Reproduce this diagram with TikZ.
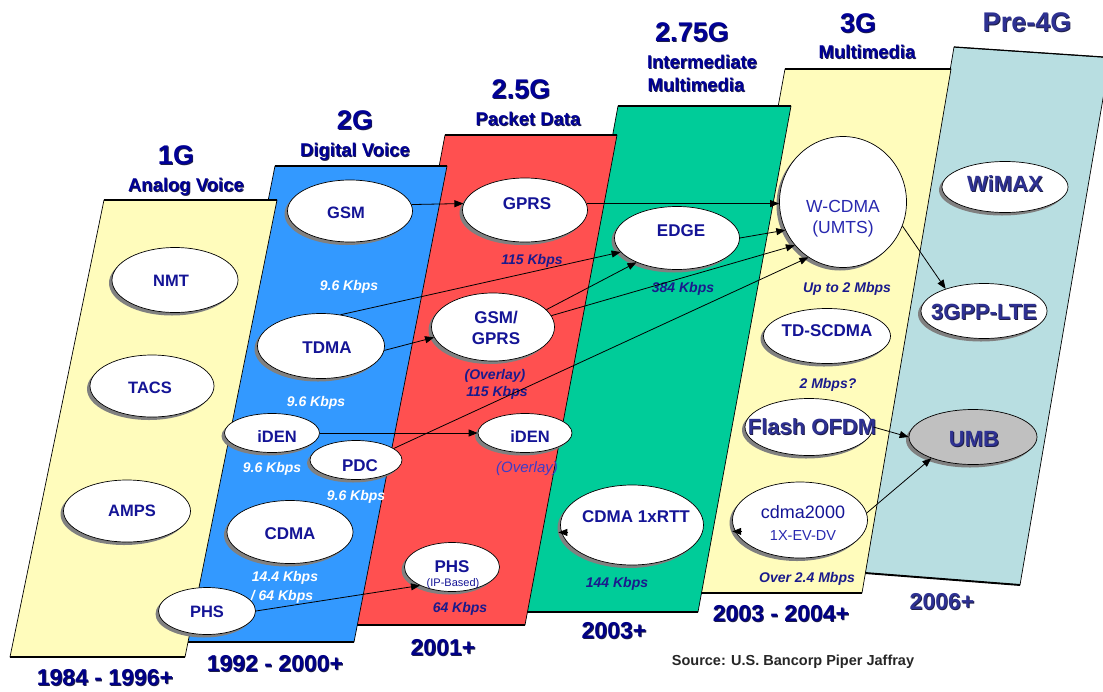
\documentclass[tikz,border=0pt]{standalone}
\usepackage{fontspec}
\setmainfont{Liberation Sans}
\usetikzlibrary{shapes.geometric,shadows,arrows.meta}

\definecolor{paleyellow}{RGB}{255,252,188}
\definecolor{gblue}{RGB}{51,153,255}
\definecolor{gred}{RGB}{255,80,80}
\definecolor{ggreen}{RGB}{0,204,153}
\definecolor{gteal}{RGB}{184,222,225}
\definecolor{navy}{RGB}{0,0,150}
\definecolor{yearnavy}{RGB}{0,0,135}
\definecolor{slatenavy}{RGB}{46,49,146}
\definecolor{ovaltext}{RGB}{20,20,150}
\definecolor{wcdmatext}{RGB}{40,40,175}
\definecolor{ratetext}{RGB}{26,26,140}
\definecolor{overlaytext}{RGB}{60,60,200}
\definecolor{umbgray}{RGB}{192,192,192}
\definecolor{embosscol}{RGB}{30,30,70}

\newcommand\fsz[1]{\fontsize{#1}{#1}\selectfont}
% text with a small dark offset copy underneath, for the heavy titles
\newcommand\embossed[1]{\makebox[0pt][l]{\hspace{0.9pt}\raisebox{-0.9pt}{\color{embosscol}#1}}#1}

\tikzset{
  bandfill/.style={draw=black, line width=0.7pt, line join=round},
  bandtop/.style={draw=black, line width=1.2pt},
  bandfoot/.style={draw=black, line width=1.9pt},
  oval/.style 2 args={ellipse, draw=black, line width=0.7pt, fill=white,
    minimum width=#1pt, minimum height=#2pt, inner sep=0pt,
    drop shadow={shadow xshift=-3pt, shadow yshift=-3pt, fill=gray, opacity=1}},
  hdr/.style={text=navy, font=\fsz{27}\bfseries, inner sep=0pt, text height=19.3pt, text depth=0pt},
  sub/.style={text=navy, font=\fsz{18.5}\bfseries, inner sep=0pt, text height=13.3pt, text depth=0pt},
  yr/.style={text=yearnavy, font=\fsz{23}\bfseries, inner sep=0pt, text height=16.5pt, text depth=0pt},
  otext/.style={text=ovaltext, font=\fsz{17}\bfseries, inner sep=0pt, text height=12.2pt, text depth=0pt},
  osmall/.style={otext, font=\fsz{16.5}\bfseries, text height=11.8pt},
  obig/.style={text=slatenavy, font=\fsz{22}\bfseries, inner sep=0pt, text height=15.8pt, text depth=0pt},
  wtext/.style={text=wcdmatext, font=\fsz{17.5}, inner sep=0pt, text height=12.5pt, text depth=0pt},
  ctext/.style={text=ovaltext, font=\fsz{18}, inner sep=0pt, text height=12.9pt, text depth=0pt},
  ctextsm/.style={text=wcdmatext, font=\fsz{14.5}, inner sep=0pt, text height=10.4pt, text depth=0pt},
  iptext/.style={text=ovaltext, font=\fsz{11}, inner sep=0pt, text height=7.9pt, text depth=0pt},
  rate/.style={font=\fsz{14}\bfseries\itshape, inner sep=0pt, text height=10pt, text depth=0pt},
  ratew/.style={rate, text=white},
  rated/.style={rate, text=ratetext},
  overlay/.style={text=overlaytext, font=\fsz{15}\itshape, inner sep=0pt, text height=10.8pt, text depth=0pt},
  source/.style={text=black!85, font=\fsz{14.5}\bfseries, inner sep=0pt, text height=10.4pt, text depth=0pt},
  arr/.style={-{Triangle[length=9pt,width=7pt]}, draw=black, line width=0.8pt},
}

\begin{document}
\begin{tikzpicture}[x=1pt,y=-1pt]
\useasboundingbox (0,0) rectangle (1103,691);
\clip (0,0) rectangle (1103,691);

% ---- generation bands, drawn back to front ----
% Pre-4G
\path[bandfill, fill=gteal] (954,47) -- (1110,57.5) -- (1020,585) -- (865,573) -- cycle;
\draw[bandtop] (954,47) -- (1110,57.5);
\draw[bandfoot] (865,573) -- (1020,585);
% 3G
\path[bandfill, fill=paleyellow] (785,69) -- (951,69) -- (862,593) -- (689,593) -- cycle;
\draw[bandtop] (785,69) -- (951,69);
\draw[bandfoot] (689,593) -- (862,593);
% 2.75G
\path[bandfill, fill=ggreen] (618,106) -- (791,106) -- (698,612) -- (525,612) -- cycle;
\draw[bandtop] (618,106) -- (791,106);
\draw[bandfoot] (525,612) -- (698,612);
% 2.5G
\path[bandfill, fill=gred] (445,135) -- (617,135) -- (525,625) -- (353,625) -- cycle;
\draw[bandtop] (445,135) -- (617,135);
\draw[bandfoot] (353,625) -- (525,625);
% 2G
\path[bandfill, fill=gblue] (275,166) -- (447,166) -- (354,642) -- (180,642) -- cycle;
\draw[bandtop] (275,166) -- (447,166);
\draw[bandfoot] (180,642) -- (354,642);
% 1G
\path[bandfill, fill=paleyellow] (104,200) -- (277,200) -- (185,657) -- (10,657) -- cycle;
\draw[bandtop] (104,200) -- (277,200);
\draw[bandfoot] (10,657) -- (185,657);

% ---- headings ----
\node[hdr] (h1) at (176,155) {\embossed{1G}};
\node[sub] (s1) at (186,185) {\embossed{Analog Voice}};
\node[hdr] (h2) at (355,120) {\embossed{2G}};
\node[sub] (s2) at (355,150) {\embossed{Digital Voice}};
\node[hdr] (h25) at (521,89) {\embossed{2.5G}};
\node[sub] (s25) at (528,119) {\embossed{Packet Data}};
\node[hdr] (h275) at (692,32) {\embossed{2.75G}};
\node[sub] (s275a) at (702,62) {\embossed{Intermediate}};
\node[sub] (s275b) at (696,85) {\embossed{Multimedia}};
\node[hdr] (h3) at (858,23) {\embossed{3G}};
\node[sub] (s3) at (867,52) {\embossed{Multimedia}};
\node[hdr, text=slatenavy] (h4) at (1027,22) {\embossed{Pre-4G}};

% ---- years ----
\node[yr] (y1) at (105,677) {\embossed{1984 - 1996+}};
\node[yr] (y2) at (275,663) {\embossed{1992 - 2000+}};
\node[yr] (y3) at (443,647) {\embossed{2001+}};
\node[yr] (y4) at (614,630) {\embossed{2003+}};
\node[yr] (y5) at (781,613) {\embossed{2003 - 2004+}};
\node[yr, text=slatenavy] (y6) at (942,601) {\embossed{2006+}};
\node[source] (src) at (793,660) {Source: U.S. Bancorp Piper Jaffray};

% ---- data rates ----
\node[ratew] (rGsm) at (349,285) {9.6 Kbps};
\node[ratew] (rTdma) at (316,401) {9.6 Kbps};
\node[ratew] (rIden) at (272,467) {9.6 Kbps};
\node[ratew] (rPdc) at (356,495) {9.6 Kbps};
\node[ratew] (rCdmaA) at (285,576) {14.4 Kbps};
\node[ratew] (rCdmaB) at (282,595) {/ 64 Kbps};
\node[rated] (rGprs) at (532,259) {115 Kbps};
\node[rated] (rOvl) at (495,374) {(Overlay)};
\node[rated] (rGsmGprs) at (497,391) {115 Kbps};
\node[overlay] (rIdenOvl) at (527,467) {(Overlay)};
\node[rated] (rPhs) at (460,607) {64 Kbps};
\node[rated] (rEdge) at (683,287) {384 Kbps};
\node[rated] (rRtt) at (617,582) {144 Kbps};
\node[rated] (rWcdma) at (847,287) {Up to 2 Mbps};
\node[rated] (rTds) at (828,383) {2 Mbps?};
\node[rated] (rC2k) at (807,577) {Over 2.4 Mbps};

% ---- technologies ----
% 1G
\node[oval={126}{65}, label={[osmall,xshift=-4pt,yshift=-1pt]center:NMT}] (nmt) at (175,280) {};
\node[oval={124}{62}, label={[osmall,xshift=-2pt,yshift=-1.5pt]center:TACS}] (tacs) at (152,386) {};
\node[oval={127}{62}, label={[osmall,xshift=5pt]center:AMPS}] (amps) at (127,511) {};
% 2G
\node[oval={125}{62}, label={[osmall,xshift=-4pt,yshift=-2pt]center:GSM}] (gsm) at (350,211) {};
\node[oval={127}{65}, label={[otext,xshift=6pt,yshift=-1pt]center:TDMA}] (tdma) at (321,346) {};
\node[oval={95}{39}, label={[osmall,xshift=5pt,yshift=-4pt]center:iDEN}] (idenA) at (272,433) {};
\node[oval={92}{39}, label={[otext,xshift=4pt,yshift=-5pt]center:PDC}] (pdc) at (356,460) {};
\node[oval={126}{63}, label={[otext,yshift=-1pt]center:CDMA}] (cdma) at (290,532) {};
\node[oval={97}{47}, label={[osmall,yshift=-1pt]center:PHS}] (phsA) at (207,611) {};
% 2.5G
\node[oval={125}{64}, label={[otext,xshift=2pt,yshift=7pt]center:GPRS}] (gprs) at (525,210) {};
\node[oval={123}{68}, label={[otext,xshift=3pt,yshift=10pt]center:GSM/},
      label={[otext,xshift=3pt,yshift=-11pt]center:GPRS}] (gsmgprs) at (493,327) {};
\node[oval={94}{39}, label={[osmall,xshift=5pt,yshift=-4pt]center:iDEN}] (idenB) at (525,433) {};
\node[oval={95}{49}, label={[otext,yshift=1pt]center:PHS},
      label={[iptext,xshift=1pt,yshift=-16pt]center:(IP-Based)}] (phsB) at (452,567) {};
% 2.75G
\node[oval={125}{63}, label={[otext,xshift=4pt,yshift=8pt]center:EDGE}] (edge) at (677,238) {};
\node[oval={143}{80}, label={[otext,xshift=4pt,yshift=9pt]center:CDMA 1xRTT}] (rtt) at (632,525) {};
% 3G
\node[oval={127}{131}, label={[wtext,yshift=-4pt]center:W-CDMA},
      label={[wtext,yshift=-25pt]center:(UMTS)}] (wcdma) at (843,202) {};
\node[oval={127}{55}, label={[otext,yshift=6pt]center:TD-SCDMA}] (tds) at (827,336) {};
\node[oval={128}{57}, label={[obig,xshift=3pt]center:\embossed{Flash OFDM}}] (flash) at (809,427) {};
\node[oval={135}{76}, label={[ctext,xshift=3pt,yshift=8pt]center:cdma2000},
      label={[ctextsm,xshift=3pt,yshift=-15pt]center:1X-EV-DV}] (c2k) at (800,520) {};
% Pre-4G
\node[oval={126}{51}, label={[obig,yshift=3pt]center:\embossed{WiMAX}}] (wimax) at (1005,187) {};
\node[oval={126}{55}, label={[obig,yshift=-1pt]center:\embossed{3GPP-LTE}}] (lte) at (984,311) {};
\node[oval={128}{55}, fill=umbgray, label={[obig,xshift=1pt,yshift=-2pt]center:\embossed{UMB}}] (umb) at (973,437) {};

% ---- migration paths ----
\draw[arr] (gsm.6) -- (gprs.174);
\draw[arr] (gprs.6) -- (wcdma.west |- gprs.6);
\draw[arr] (tdma.58) -- (edge.194);
\draw[arr] (tdma.356) -- (gsmgprs.190);
\draw[arr] (gsmgprs.18) -- (edge.211);
\draw[arr] (gsmgprs.11) -- (wcdma.222);
\draw[arr] (edge.east) -- (wcdma.206);
\draw[arr] (pdc.17) -- (wcdma.238);
\draw[arr] (idenA.east) -- (idenB.west);
\draw[arr] (phsA.east) -- (phsB.210);
\draw[arr] (wcdma.338) -- (lte.150);
\draw[arr] (flash.east) -- (umb.west);
\draw[arr] (c2k.6) -- (umb.207);
% short incoming tips on the left rims
\coordinate (rttTip) at ([xshift=-3pt]rtt.186);
\coordinate (c2kTip) at ([xshift=-3pt]c2k.190);
\draw[arr] ([xshift=10pt]rttTip) -- (rttTip);
\draw[arr] ([xshift=10pt]c2kTip) -- (c2kTip);
\end{tikzpicture}
\end{document}
